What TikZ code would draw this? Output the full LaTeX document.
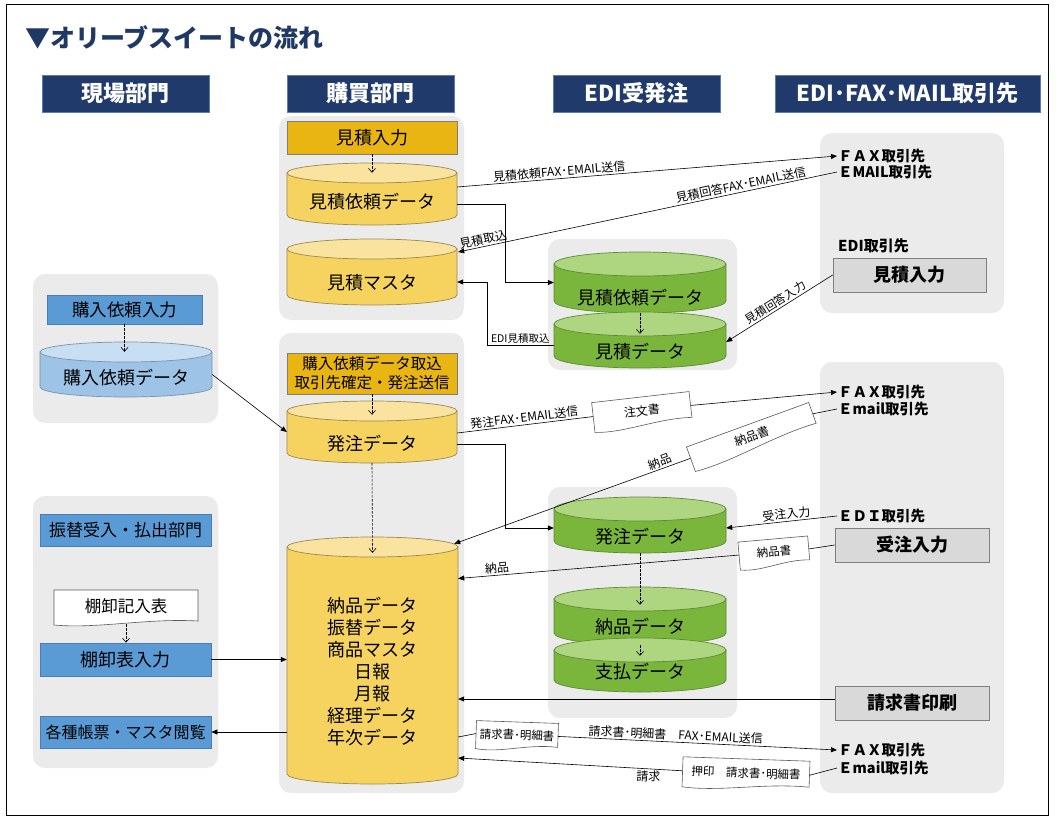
\documentclass[tikz,border=0pt]{standalone}
\usepackage{fontspec}
\setmainfont{Noto Sans CJK JP}
\usetikzlibrary{arrows.meta}
\definecolor{navy}{HTML}{1F3864}
\definecolor{hdrnavy}{HTML}{1F3A6B}
\definecolor{hdrborder}{HTML}{5B7DAE}
\definecolor{panelgray}{HTML}{EBEBEB}
\definecolor{dyellow}{HTML}{E8B513}
\definecolor{ybody}{HTML}{F6D35E}
\definecolor{ytop}{HTML}{FAE39E}
\definecolor{yborder}{HTML}{9A8850}
\definecolor{bluebox}{HTML}{5B9BD5}
\definecolor{blueborder}{HTML}{4A7DB0}
\definecolor{lbbody}{HTML}{9DC3E6}
\definecolor{lbtop}{HTML}{C8DEF2}
\definecolor{lbborder}{HTML}{7A93AA}
\definecolor{gbody}{HTML}{7AB63C}
\definecolor{gtop}{HTML}{AED680}
\definecolor{gborder}{HTML}{5E8A34}
\definecolor{graybox}{HTML}{D9D9D9}
\definecolor{grayborder}{HTML}{7F7F7F}

\def\cyR{10}
\newcommand\lowtxt[2]{\raisebox{-#1}[\height][\depth]{#2}}
\newcommand\dbcyl[9]{%
 \pgfmathsetmacro\cyXa{#2}%
 \pgfmathsetmacro\cyXb{#3}%
 \pgfmathsetmacro\cyYa{#4+\cyR}%
 \pgfmathsetmacro\cyYb{#5}%
 \pgfmathsetmacro\cyYc{#5-\cyR}%
 \pgfmathsetmacro\cyXc{(#2+#3)/2}%
 \pgfmathsetmacro\cyRx{(#3-#2)/2}%
 \pgfmathsetmacro\cyKx{0.5523*(#3-#2)/2}%
 \pgfmathsetmacro\cyKy{#5-\cyR+0.5523*\cyR}%
 \pgfmathsetmacro\cyH{#5-#4-\cyR}%
 \pgfmathsetmacro\cyW{#3-#2}%
 \pgfmathsetmacro\cyM{(#4+\cyR+#5)/2}%
 \filldraw[fill=#6,draw=#8,line width=0.7pt] (\cyXa,\cyYa) -- (\cyXa,\cyYc) .. controls (\cyXa,\cyKy) and (\cyXc-\cyKx,\cyYb) .. (\cyXc,\cyYb) .. controls (\cyXc+\cyKx,\cyYb) and (\cyXb,\cyKy) .. (\cyXb,\cyYc) -- (\cyXb,\cyYa) -- cycle;
 \filldraw[fill=#7,draw=#8,line width=0.7pt] (\cyXc,\cyYa) ellipse [x radius=\cyRx pt, y radius=\cyR pt];
 \node[cyltext, minimum width=\cyW, minimum height=\cyH] (#1) at (\cyXc,\cyM) {#9};
}

\newcommand\docnd[8]{%
 \begin{scope}[shift={(#2,#3)},rotate=#6]
 \pgfmathsetmacro\dcW{#4/2}%
 \pgfmathsetmacro\dcH{#5/2}%
 \filldraw[docst] (-\dcW,-\dcH) -- (\dcW,-\dcH) -- (\dcW,\dcH-4) .. controls (0.3*\dcW,\dcH-7) and (-0.4*\dcW,\dcH+4) .. (-\dcW,\dcH) -- cycle;
 \node[transform shape, inner sep=0, minimum width=#4, minimum height=#5, font=#7] (#1) at (0,-1) {#8};
 \end{scope}}

\begin{document}
\begin{tikzpicture}[x=1pt,y=-1pt,
 panel/.style={fill=panelgray, rounded corners=12pt, draw=none},
 hdr/.style={fill=hdrnavy, draw=hdrborder, line width=0.8pt, text=white, font=\fontsize{22}{24}\selectfont\bfseries, inner sep=0, minimum height=37},
 ybox/.style={fill=dyellow, draw=grayborder, line width=0.7pt, inner sep=0},
 bbox/.style={fill=bluebox, draw=blueborder, line width=0.7pt, inner sep=0},
 gbox/.style={fill=graybox, draw=grayborder, line width=0.7pt, inner sep=0, font=\fontsize{18}{20}\selectfont\bfseries},
 cyltext/.style={inner sep=0, font=\fontsize{18}{20}\selectfont},
 ptext/.style={font=\fontsize{14.5}{16}\selectfont\bfseries, inner sep=1pt, anchor=west},
 lbl/.style={font=\fontsize{12}{14}\selectfont, inner sep=1.5pt},
 conn/.style={line width=0.6pt, -{Triangle[length=6pt,width=5pt]}},
 cline/.style={line width=0.6pt},
 dsh/.style={line width=0.6pt, dash pattern=on 2.5pt off 1.5pt, -{Straight Barb[length=4pt,width=7pt]}},
 docst/.style={fill=white, draw=gray!70!black, line width=0.6pt}]
\useasboundingbox (0,0) rectangle (1058,819);
\fill[white] (0,0) rectangle (1058,819);
\draw[line width=0.8pt] (6,4) rectangle (1048,815);

% title
\node[anchor=west, inner sep=0, text=navy, font=\fontsize{25}{28}\selectfont\bfseries] (title) at (25,38) {▼オリーブスイートの流れ};

% headers
\node[hdr, minimum width=167] (h1) at (125.5,93.5) {現場部門};
\node[hdr, minimum width=167] (h2) at (370.5,93.5) {購買部門};
\node[hdr, minimum width=167] (h3) at (636.5,93.5) {EDI受発注};
\node[hdr, minimum width=265] (h4) at (907.5,93.5) {EDI･FAX･MAIL取引先};

% panels
\fill[panel] (279,116) rectangle (464,320);
\fill[panel] (279,333) rectangle (464,793);
\fill[panel] (33,274) rectangle (218,423);
\fill[panel] (33,496) rectangle (218,768);
\fill[panel] (548,239) rectangle (737,370);
\fill[panel] (548,487) rectangle (737,718);
\fill[panel] (820,133) rectangle (1004,313);
\fill[panel] (820,362) rectangle (1004,793);

% purchase column
\node[ybox, minimum width=170, minimum height=33, font=\fontsize{18}{20}\selectfont] (mi) at (372,137.5) {見積入力};
\dbcyl{kd}{287}{457}{163}{225}{ybody}{ytop}{yborder}{\lowtxt{3pt}{見積依頼データ}}
\dbcyl{km}{287}{457}{239}{305}{ybody}{ytop}{yborder}{\lowtxt{6pt}{見積マスタ}}
\node[ybox, minimum width=170, minimum height=41, align=center, font=\fontsize{15.5}{19}\selectfont] (ht) at (372,373.5) {購入依頼データ取込\\取引先確定・発注送信};
\dbcyl{hdc}{287}{457}{401}{463}{ybody}{ytop}{yborder}{\lowtxt{7pt}{発注データ}}
\dbcyl{big}{287}{458}{537}{784}{ybody}{ytop}{yborder}{}
\node[inner sep=0, align=center, font=\fontsize{18}{22}\selectfont] (bigtxt) at (372.5,672) {納品データ\\振替データ\\商品マスタ\\日報\\月報\\経理データ\\年次データ};

% field column
\node[bbox, minimum width=155, minimum height=29, font=\fontsize{17.5}{20}\selectfont] (bi) at (124.5,309.5) {購入依頼入力};
\dbcyl{bd}{40}{212}{342}{397}{lbbody}{lbtop}{lbborder}{\lowtxt{3pt}{購入依頼データ}}
\node[bbox, minimum width=171, minimum height=32, font=\fontsize{17}{20}\selectfont] (fr) at (125.5,530) {振替受入・払出部門};
\docnd{tk}{126}{607.5}{144}{35}{0}{\fontsize{16.5}{18}\selectfont}{棚卸記入表}
\node[bbox, minimum width=171, minimum height=33, font=\fontsize{18}{20}\selectfont] (ti) at (125.5,659.5) {棚卸表入力};
\node[bbox, minimum width=171, minimum height=32, font=\fontsize{16}{20}\selectfont] (ks) at (125.5,732) {各種帳票・マスタ閲覧};

% EDI column
\def\cyR{12}
\dbcyl{gmi}{554}{726}{252}{313}{gbody}{gtop}{gborder}{\lowtxt{9pt}{見積依頼データ}}
\dbcyl{gmd}{554}{726}{312}{368}{gbody}{gtop}{gborder}{\lowtxt{6pt}{見積データ}}
\dbcyl{gh}{554}{726}{497}{553}{gbody}{gtop}{gborder}{\lowtxt{6pt}{発注データ}}
\dbcyl{gn}{554}{726}{587}{645}{gbody}{gtop}{gborder}{\lowtxt{5pt}{納品データ}}
\dbcyl{gs}{554}{726}{638}{692}{gbody}{gtop}{gborder}{\lowtxt{1pt}{支払データ}}
\def\cyR{10}

% partner column
\node[ptext] (fax1) at (837,156) {ＦＡＸ取引先};
\node[ptext] (mail1) at (837,172) {ＥMAIL取引先};
\node[ptext, font=\fontsize{15}{17}\selectfont\bfseries] (edi1) at (837,246) {EDI取引先};
\node[gbox, minimum width=153, minimum height=34] (eq) at (909.5,275) {見積入力};
\node[ptext] (fax2) at (837,392) {ＦＡＸ取引先};
\node[ptext] (mail2) at (837,409) {Ｅmail取引先};
\node[ptext] (edi2) at (837,516) {ＥＤＩ取引先};
\node[gbox, minimum width=154, minimum height=34] (jq) at (912,545) {受注入力};
\node[gbox, minimum width=154, minimum height=34] (pr) at (912,703) {請求書印刷};
\node[ptext] (fax3) at (837,750) {ＦＡＸ取引先};
\node[ptext] (mail3) at (837,768) {Ｅmail取引先};

% documents on connectors
\docnd{doc1}{642}{412}{98}{30}{6.5}{\fontsize{12}{14}\selectfont}{注文書}
\docnd{doc2}{752}{437}{130}{26}{20}{\fontsize{12}{14}\selectfont}{納品書}
\docnd{doc3}{774}{553}{70}{28}{5}{\fontsize{11.5}{14}\selectfont}{納品書}
\docnd{doc4}{517}{736}{82}{28}{-2}{\fontsize{11.5}{14}\selectfont}{請求書･明細書}
\docnd{doc5}{746}{774}{127}{30}{-2}{\fontsize{11.5}{14}\selectfont}{押印　請求書･明細書}

% connectors
\draw[dsh] (mi.south) -- (kd.north);
\draw[conn] ([yshift=12pt]kd.east) -- node[lbl, sloped, above, pos=0.27] {見積依頼FAX･EMAIL送信} (fax1.west);
\draw[conn] (mail1.west) -- node[lbl, sloped, above, pos=0.25] {見積回答FAX･EMAIL送信} node[lbl, sloped, above, pos=0.93] {見積取込} ([yshift=25pt,xshift=1pt]km.east);
\draw[conn] ([yshift=-5pt]kd.east) -- ++(48,0) |- ([yshift=6pt]gmi.west);
\draw[conn] ([yshift=1pt]gmd.west) -- node[lbl, above, inner sep=1pt, font=\fontsize{10.5}{12}\selectfont] {EDI見積取込} ++(-67,0) |- ([yshift=-5pt]km.east);
\draw[dsh] (gmi.south) -- ([yshift=-10pt]gmd.north);
\draw[conn] (eq.west) -- node[lbl, sloped, above, pos=0.5, font=\fontsize{11.5}{13}\selectfont] {見積回答入力} ([yshift=4pt]gmd.east);

\draw[dsh] (bi.south) -- (bi.south |- bd.north);
\draw[conn] (bd.east) -- ([yshift=5pt]hdc.west);
\draw[dsh] (ht.south) -- ([yshift=-4pt]hdc.north);
\draw[cline] ([yshift=4pt]hdc.east) -- node[lbl, sloped, above] {発注FAX･EMAIL送信} (doc1.west);
\draw[conn] (doc1.east) -- (fax2.west);
\draw[cline] (mail2.west) -- (doc2.east);
\draw[conn] (doc2.west) -- node[lbl, sloped, above, pos=0.12] {納品} ([xshift=-4pt,yshift=3pt]big.north east);
\draw[conn] ([yshift=-7pt]hdc.east) -- ++(48,0) |- ([yshift=3pt]gh.west);
\draw[dsh] (hdc.south) -- ([yshift=-6pt]big.north);

\draw[conn] (edi2.west) -- node[lbl, sloped, above, pos=0.45] {受注入力} ([yshift=3pt]gh.east);
\draw[cline] (jq.west) -- (doc3.east);
\draw[conn] (doc3.west) -- node[lbl, sloped, above, pos=0.86] {納品} ([yshift=87pt]big.east);
\draw[dsh] (gh.south) -- ([yshift=-6pt]gn.north);
\draw[dsh] (gn.south) -- ([yshift=-6pt]gs.north);

\draw[conn] ([yshift=4pt]pr.west) -- ([yshift=4pt]pr.west -| big.east);
\draw[cline] ([yshift=-71.5pt]big.east) -- (doc4.west);
\draw[conn] (doc4.east) -- node[lbl, sloped, above, pos=0.42] {請求書･明細書　FAX･EMAIL送信} (fax3.west);
\draw[cline] (mail3.west) -- (doc5.east);
\draw[conn] (doc5.west) -- node[lbl, sloped, below, pos=0.15] {請求} ([yshift=-92.5pt]big.east);

\draw[dsh] (tk.south) -- (tk.south |- ti.north);
\draw[conn] (ti.east) -- (ti.east -| big.west);
\draw[conn] (ks.east -| big.west) -- (ks.east);
\end{tikzpicture}
\end{document}
